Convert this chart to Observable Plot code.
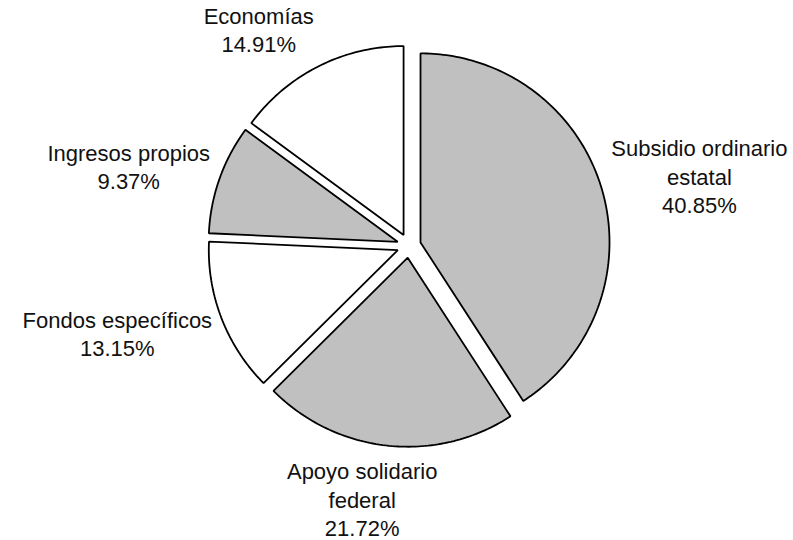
<!DOCTYPE html>
<html>
<head>
<meta charset="utf-8">
<script src="https://cdn.jsdelivr.net/npm/d3@7"></script>
<script src="https://cdn.jsdelivr.net/npm/@observablehq/plot@0.6"></script>
<style>
  html, body { margin: 0; padding: 0; background: #ffffff; }
  #chart { width: 793px; height: 540px; }
</style>
</head>
<body>
<div id="chart"></div>
<script>
// ---- Data ----
const categories = ["Subsidio ordinario estatal", "Apoyo solidario federal", "Fondos específicos", "Ingresos propios", "Economías"];
const labelNames = ["Subsidio ordinario\nestatal", "Apoyo solidario\nfederal", "Fondos específicos", "Ingresos propios", "Economías"];
const values = [40.85, 21.72, 13.15, 9.37, 14.91];
const valueLabels = ["40.85%", "21.72%", "13.15%", "9.37%", "14.91%"];

// ---- Style / layout constants ----
const palette = ["#c0c0c0", "#c0c0c0", "#ffffff", "#c0c0c0", "#ffffff"];
const W = 793, H = 540;
const CX = 408.5, CY = 245.3;   // pie centre (px)
const R = 189;                  // radius (px)
const EXPLODE = 12;             // explosion offset (px)
const PAD = 10;                 // label gap (px)
const FONT_SIZE = 22, LINE_H = 1.3;
const FONT = "'Liberation Sans', Arial, Helvetica, sans-serif";

// ---- Geometry from values ----
const total = d3.sum(values);
let acc = 0;
const slices = values.map((v, i) => {
  const a0 = acc / total * 2 * Math.PI;
  acc += v;
  const a1 = acc / total * 2 * Math.PI;
  return {i, name: categories[i], value: v, a0, a1, mid: (a0 + a1) / 2};
});

const e = EXPLODE / R;
const pts = [];
for (const s of slices) {
  const ox = Math.sin(s.mid) * e, oy = Math.cos(s.mid) * e;
  pts.push({slice: s.i, x: ox, y: oy});
  const n = Math.max(8, Math.ceil((s.a1 - s.a0) / (2 * Math.PI) * 360));
  for (let k = 0; k <= n; k++) {
    const a = s.a0 + (s.a1 - s.a0) * k / n;
    pts.push({slice: s.i, x: ox + Math.sin(a), y: oy + Math.cos(a)});
  }
}

// label placement (Excel-like outside-end)
const ctx = document.createElement("canvas").getContext("2d");
ctx.font = `${FONT_SIZE}px ${FONT}`;
const clamp = v => Math.max(-1, Math.min(1, v));
const labels = slices.map(s => {
  const text = labelNames[s.i] + "\n" + valueLabels[s.i];
  const lines = text.split("\n");
  const w = d3.max(lines, l => ctx.measureText(l).width);
  const h = lines.length * FONT_SIZE * LINE_H;
  const dx = Math.sin(s.mid), dy = -Math.cos(s.mid); // screen direction
  const px = CX + (R + EXPLODE + PAD) * dx;
  const py = CY + (R + EXPLODE + PAD) * dy;
  const bx = px + clamp(3 * dx) * w / 2;
  const by = py + clamp(3 * dy * Math.abs(dy)) * h / 2;
  return {text, x: (bx - CX) / R, y: (CY - by) / R};
});

const chart = Plot.plot({
  width: W,
  height: H,
  margin: 0,
  x: {domain: [-CX / R, (W - CX) / R], axis: null},
  y: {domain: [-(H - CY) / R, CY / R], axis: null},
  style: {fontFamily: FONT, background: "#ffffff"},
  marks: [
    ...slices.map(s => Plot.line(pts.filter(p => p.slice === s.i), {
      x: "x", y: "y",
      curve: "linear-closed",
      fill: palette[s.i],
      stroke: "#000000",
      strokeWidth: 1.8,
      strokeLinejoin: "miter"
    })),
    Plot.text(labels, {
      x: "x", y: "y", text: "text",
      fontSize: FONT_SIZE,
      lineHeight: LINE_H,
      textAnchor: "middle",
      lineAnchor: "middle",
      fill: "#111111"
    })
  ]
});
document.getElementById("chart").appendChild(chart);
</script>
</body>
</html>
